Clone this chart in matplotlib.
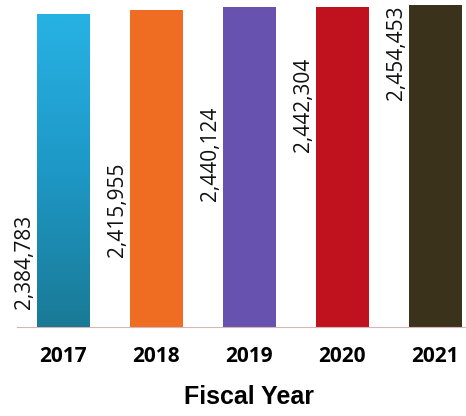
import matplotlib.pyplot as plt
import numpy as np
from matplotlib.colors import LinearSegmentedColormap

years = ["2017", "2018", "2019", "2020", "2021"]
enrollment = [2384783, 2415955, 2440124, 2442304, 2454453]
bar_colors = ["#1e96c4", "#ef6d22", "#6852b0", "#c0111f", "#3b321c"]

# where each rotated value label starts, as a fraction of the axis height
label_bottom_frac = [0.055, 0.215, 0.385, 0.535, 0.695]
Y_TOP = 2492600

fig = plt.figure(figsize=(4.66, 4.16), dpi=100)
ax = fig.add_axes([17 / 466, 89 / 416, 449 / 466, 327 / 416])

x_positions = np.arange(len(years))
bar_width = 0.57
bars = ax.bar(x_positions, enrollment, bar_width, color=bar_colors, zorder=2)

# the first bar fades from cyan at the top to teal at the bottom
first = bars[0]
fade = LinearSegmentedColormap.from_list("fade", ["#1a7a96", "#1e98c6", "#27b2e4"])
grad = ax.imshow(
    np.linspace(0, 1, 256).reshape(-1, 1),
    cmap=fade,
    origin="lower",
    aspect="auto",
    extent=(first.get_x(), first.get_x() + first.get_width(), 0, first.get_height()),
    zorder=3,
)
grad.set_clip_path(first)

ax.set_xlim(-0.5, 4.33)
ax.set_ylim(0, Y_TOP)

for xpos, value, frac in zip(x_positions, enrollment, label_bottom_frac):
    ax.text(
        xpos - bar_width / 2 - 0.02,
        frac * Y_TOP,
        f"{value:,}",
        rotation=90,
        ha="right",
        va="bottom",
        fontsize=15,
        family="Open Sans",
        color="#111111",
    )

ax.set_xticks(x_positions)
ax.set_xticklabels(years, family="Open Sans", fontweight="bold", fontsize=15)
ax.tick_params(axis="x", length=0, pad=14)
ax.set_yticks([])
for side in ("top", "left", "right"):
    ax.spines[side].set_visible(False)
ax.spines["bottom"].set_color("#d8b4b4")
ax.spines["bottom"].set_linewidth(0.8)

ax.set_xlabel("Fiscal Year", family="Liberation Sans", fontweight="bold", fontsize=18)
ax.xaxis.set_label_coords((249.5 - 17) / 449, -58 / 327)

fig.savefig("out.png", dpi=100)
